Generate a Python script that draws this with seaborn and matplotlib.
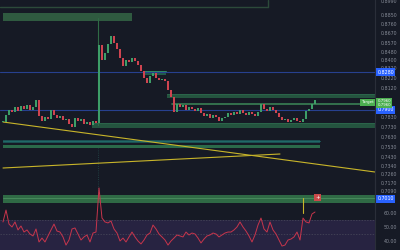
import numpy as np
import matplotlib
matplotlib.use("Agg")
import matplotlib.pyplot as plt
import seaborn as sns
from matplotlib.transforms import blended_transform_factory

# ---- data ----
close = [0.778, 0.785, 0.790, 0.788, 0.793, 0.789, 0.794, 0.791, 0.795, 0.790,
         0.793, 0.800, 0.784, 0.779, 0.783, 0.781, 0.790, 0.785, 0.782, 0.784,
         0.780, 0.781, 0.776, 0.773, 0.782, 0.779, 0.781, 0.776, 0.778, 0.775,
         0.779, 0.777, 0.855, 0.840, 0.847, 0.856, 0.864, 0.857, 0.851, 0.842,
         0.834, 0.840, 0.838, 0.842, 0.839, 0.835, 0.829, 0.822, 0.817, 0.824,
         0.827, 0.822, 0.820, 0.821, 0.819, 0.810, 0.803, 0.788, 0.796, 0.793,
         0.795, 0.790, 0.793, 0.791, 0.789, 0.792, 0.787, 0.784, 0.786, 0.782,
         0.785, 0.783, 0.779, 0.782, 0.783, 0.787, 0.785, 0.788, 0.786, 0.790,
         0.787, 0.785, 0.788, 0.786, 0.784, 0.788, 0.796, 0.791, 0.789, 0.793,
         0.790, 0.787, 0.783, 0.780, 0.781, 0.778, 0.780, 0.782, 0.779, 0.778,
         0.781, 0.789, 0.791, 0.796, 0.800]

rsi = [53.6, 62.1, 52.1, 50.0, 53.6, 47.9, 50.7, 46.4, 47.9, 45.0,
       43.6, 48.6, 39.3, 42.1, 39.3, 43.6, 47.9, 52.1, 47.1, 46.4,
       42.9, 37.1, 40.7, 48.6, 49.3, 45.0, 40.7, 42.9, 44.3, 39.3,
       45.7, 46.4, 77.9, 56.4, 53.6, 52.9, 54.3, 48.6, 45.7, 40.0,
       42.1, 39.3, 42.9, 46.4, 42.9, 40.0, 37.9, 40.7, 44.3, 45.7,
       51.4, 48.6, 45.0, 42.9, 40.7, 37.1, 40.0, 42.1, 44.3, 43.6,
       42.9, 46.4, 44.3, 45.7, 45.0, 42.1, 38.6, 41.4, 43.6, 44.3,
       45.7, 45.0, 42.9, 44.3, 45.7, 46.4, 46.4, 47.9, 50.0, 53.6,
       50.0, 47.1, 43.6, 39.3, 44.3, 51.4, 56.4, 48.6, 46.4, 53.6,
       47.9, 45.0, 40.7, 36.4, 37.1, 40.7, 41.4, 42.9, 46.4, 40.7,
       56.4, 53.6, 52.9, 59.3, 60.7]

price_ticks = [0.899, 0.885, 0.876, 0.867, 0.857, 0.848, 0.840, 0.832, 0.822,
               0.812, 0.783, 0.773, 0.763, 0.753, 0.743, 0.734, 0.726,
               0.717, 0.709]
rsi_ticks = [60, 50, 40]

blue_levels = [0.828, 0.790]
target_level = 0.796
band_level = 0.701

BG = "#161a25"
GRID = "#2a2e39"
TXT = "#868b97"
GREEN = "#3d9e68"
RED = "#cf4450"

sns.set_theme(style="dark")
plt.rcParams["font.family"] = ["DejaVu Sans"]

fig = plt.figure(figsize=(4, 2.5), dpi=100, facecolor=BG)
ax = fig.add_axes([0, 0.18, 0.9375, 0.82])
ax.set_facecolor(BG)
ax.set_xlim(-1, 124)
ax.set_ylim(0.695, 0.900)

# zones and lines
ax.plot([-1, 88.3], [0.893, 0.893], color="#2c4a3a", lw=1.0)
ax.plot([88.3, 88.3], [0.893, 0.900], color="#2c4a3a", lw=1.0)
ax.fill_between([0, 43], 0.879, 0.887, color="#2f5a40", lw=0)
for lv in blue_levels:
    ax.axhline(lv, color="#27408f", lw=0.8)
ax.plot([31.67, 31.67], [0.775, 0.882], color="#2f6b45", lw=0.8)
ax.plot([31.67, 31.67], [0.705, 0.752], color="#24494a", lw=0.6, ls=":")
ax.fill_between([46.7, 54.3], 0.825, 0.828, color="#215a4a", lw=0)
ax.plot([46.7, 54.3], [0.8285, 0.8285], color="#2f8a66", lw=0.7)
ax.fill_between([54.7, 124], 0.802, 0.806, color="#24543f", lw=0)
ax.plot([54.7, 124], [0.806, 0.806], color="#2f6b50", lw=0.5)
ax.plot([56.3, 124], [target_level, target_level], color="#3a7f55", lw=1.2)
ax.fill_between([29.67, 124], 0.772, 0.777, color="#24543f", lw=0)
ax.plot([29.67, 124], [0.777, 0.777], color="#2f6b50", lw=0.5)
ax.fill_between([0, 105.67], 0.7575, 0.760, color="#1c4f52", lw=0)
ax.plot([0, 105.67], [0.759, 0.759], color="#21706d", lw=0.6)
ax.fill_between([0, 105.67], 0.752, 0.755, color="#2b6a4a", lw=0)
ax.plot([0, 124], [0.778, 0.728], color="#c8b52a", lw=0.8)
ax.plot([0, 92.33], [0.732, 0.746], color="#c8b52a", lw=0.8)
ax.fill_between([0, 124], 0.697, 0.705, color="#2f6a45", lw=0)
ax.plot([0, 124], [0.7015, 0.7015], color="#4b8f5f", lw=0.6)
ax.text(104.8, 0.7025, "+", fontsize=4, color="white", ha="center", va="center",
        bbox=dict(boxstyle="square,pad=0.25", fc="#c94a4a", ec="none"))

# candles
opens = [close[0]] + close[:-1]
idx = np.arange(len(close))
bottoms = [min(o, c) for o, c in zip(opens, close)]
heights = [max(abs(c - o), 0.0008) for o, c in zip(opens, close)]
colors = [GREEN if c >= o else RED for o, c in zip(opens, close)]
ax.bar(idx, heights, bottom=bottoms, width=0.6, color=colors, linewidth=0, zorder=3)

# axis styling
for s in ["top", "left", "bottom"]:
    ax.spines[s].set_visible(False)
ax.spines["right"].set_color(GRID)
ax.spines["right"].set_linewidth(0.8)
ax.set_xticks([])
ax.yaxis.tick_right()
ax.set_yticks(price_ticks)
ax.set_yticklabels([f"{t:.4f}" for t in price_ticks])
ax.tick_params(axis="y", length=0, pad=4, labelsize=3.4, labelcolor=TXT)
ax.grid(False)

tr = blended_transform_factory(ax.transAxes, ax.transData)
for lv in blue_levels + [band_level]:
    ax.text(1.006, lv, f"{lv:.4f}", transform=tr, fontsize=3.4, color="white",
            ha="left", va="center", clip_on=False,
            bbox=dict(boxstyle="square,pad=0.3", fc="#2962ff", ec="none"))
ax.text(1.006, target_level + 0.001, f"{target_level:.4f}\n{target_level:.4f}",
        transform=tr, fontsize=2.8, color="white", ha="left", va="center",
        clip_on=False, linespacing=0.9,
        bbox=dict(boxstyle="square,pad=0.3", fc="#4caf50", ec="none"))
ax.text(0.963, target_level + 0.0015, "Target", transform=tr, fontsize=3.0,
        color="white", ha="left", va="center", clip_on=False,
        bbox=dict(boxstyle="square,pad=0.25", fc="#4caf50", ec="none"))

# RSI pane
ax2 = fig.add_axes([0, 0, 0.9375, 0.28])
ax2.patch.set_alpha(0)
ax2.set_xlim(-1, 124)
ax2.set_ylim(33.57, 83.57)
ax2.axhspan(33.57, 55, color="#272341", lw=0, zorder=0)
ax2.axhline(55, color="#4a4b5c", lw=0.5, ls=(0, (2, 2)))
ax2.axhline(45, color="#4a4b5c", lw=0.5, ls=(0, (2, 2)))
ax2.plot([100, 100], [60, 70.7], color="#c8b52a", lw=0.8)
sns.lineplot(x=np.arange(len(rsi)), y=rsi, ax=ax2, color="#c8354c", linewidth=0.7)
for s in ["top", "left", "bottom"]:
    ax2.spines[s].set_visible(False)
ax2.spines["right"].set_color(GRID)
ax2.spines["right"].set_linewidth(0.8)
ax2.set_xticks([])
ax2.set_xlabel("")
ax2.yaxis.tick_right()
ax2.set_yticks(rsi_ticks)
ax2.set_yticklabels([f"{t:.2f}" for t in rsi_ticks])
ax2.tick_params(axis="y", length=0, pad=6, labelsize=3.4, labelcolor=TXT)
ax2.grid(False)

fig.savefig("out.png", dpi=100, facecolor=BG)
